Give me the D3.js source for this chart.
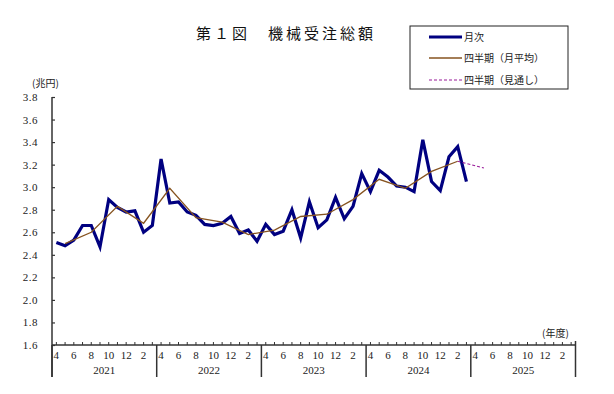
<!DOCTYPE html>
<html>
<head>
<meta charset="utf-8">
<script src="https://cdn.jsdelivr.net/npm/d3@7"></script>
<style>
  body { margin: 0; background: #fff; }
  svg text { font-family: "Liberation Serif", "Noto Sans CJK JP", serif; fill: #222; }
  .jp { font-family: "Noto Sans CJK JP", sans-serif; }
</style>
</head>
<body>
<svg id="chart" width="614" height="394"></svg>
<script>
// fiscal years shown on the x axis (April - March)
var fiscalYears = ['2021', '2022', '2023', '2024', '2025'];
var monthLabels = ['4', '6', '8', '10', '12', '2'];
var yTicks = [1.6, 1.8, 2.0, 2.2, 2.4, 2.6, 2.8, 3.0, 3.2, 3.4, 3.6, 3.8];

// 月次 (trillion yen), Apr 2021 - Mar 2025
var monthly = [
  2.51, 2.48, 2.53, 2.66, 2.66, 2.47, 2.89, 2.82, 2.78, 2.79, 2.60, 2.66,
  3.25, 2.86, 2.87, 2.78, 2.75, 2.67, 2.66, 2.68, 2.74, 2.59, 2.62, 2.52,
  2.67, 2.58, 2.61, 2.80, 2.55, 2.87, 2.64, 2.71, 2.91, 2.72, 2.83, 3.12,
  2.96, 3.15, 3.09, 3.01, 3.00, 2.96, 3.42, 3.05, 2.97, 3.27, 3.36, 3.05
];

// 四半期（月平均）, plotted at the middle month of each quarter
var quarterly = [
  2.50, 2.60, 2.83, 2.68,
  2.99, 2.73, 2.69, 2.58,
  2.62, 2.74, 2.76, 2.89,
  3.07, 2.99, 3.14, 3.23
];

// 四半期（見通し）: last actual quarter -> Apr-Jun 2025 outlook
var outlook = [3.23, 3.17];
var outlookQuarters = [15, 16];

var svg = d3.select('#chart');

var x = d3.scaleLinear().domain([0, 60]).range([52, 575.5]);
var y = d3.scaleLinear().domain([1.6, 3.8]).range([345, 97]);
var axisColor = '#333';

// title
svg.append('text')
  .attr('class', 'jp')
  .attr('x', 196)
  .attr('y', 39)
  .attr('font-size', 15)
  .attr('letter-spacing', 3)
  .style('fill', '#111')
  .text('第１図　機械受注総額');

// unit labels
svg.append('text').attr('class', 'jp')
  .attr('x', 32).attr('y', 87).attr('font-size', 10)
  .text('(兆円)');
svg.append('text').attr('class', 'jp')
  .attr('x', 542).attr('y', 337).attr('font-size', 10)
  .text('(年度)');

// y axis
var yAxis = d3.axisRight(y)
  .tickValues(yTicks)
  .tickSize(3)
  .tickFormat('');
var yg = svg.append('g')
  .attr('transform', 'translate(52,0)')
  .call(yAxis);
yg.select('.domain').remove();
yg.selectAll('line').attr('stroke', axisColor).attr('stroke-width', 1.2);

svg.selectAll('text.ylab')
  .data(yTicks)
  .enter().append('text')
  .attr('class', 'ylab')
  .attr('x', 38)
  .attr('y', function(d) { return y(d) + 4; })
  .attr('text-anchor', 'end')
  .attr('font-size', 11)
  .attr('letter-spacing', 0.5)
  .text(function(d) { return d.toFixed(1); });

svg.append('line')
  .attr('x1', 52).attr('x2', 52)
  .attr('y1', 97).attr('y2', 377)
  .attr('stroke', axisColor).attr('stroke-width', 1.5);

// x axis
svg.append('line')
  .attr('x1', 52).attr('x2', 575.5)
  .attr('y1', 345).attr('y2', 345)
  .attr('stroke', axisColor).attr('stroke-width', 1.5);

svg.selectAll('line.mtick')
  .data(d3.range(60))
  .enter().append('line')
  .attr('class', 'mtick')
  .attr('x1', function(d) { return x(d + 0.5); })
  .attr('x2', function(d) { return x(d + 0.5); })
  .attr('y1', 345).attr('y2', 342)
  .attr('stroke', axisColor).attr('stroke-width', 1);

svg.selectAll('line.ysep')
  .data(d3.range(fiscalYears.length + 1))
  .enter().append('line')
  .attr('class', 'ysep')
  .attr('x1', function(d) { return x(d * 12); })
  .attr('x2', function(d) { return x(d * 12); })
  .attr('y1', function(d) { return d === fiscalYears.length ? 341 : 345; })
  .attr('y2', 377)
  .attr('stroke', axisColor).attr('stroke-width', 1.5);

fiscalYears.forEach(function(fy, k) {
  svg.selectAll('text.m' + k)
    .data(monthLabels)
    .enter().append('text')
    .attr('class', 'm' + k)
    .attr('x', function(d, i) { return x(k * 12 + i * 2 + 0.5); })
    .attr('y', 359)
    .attr('text-anchor', 'middle')
    .attr('font-size', 11)
    .text(function(d) { return d; });

  svg.append('text')
    .attr('x', x(k * 12 + 6))
    .attr('y', 374)
    .attr('text-anchor', 'middle')
    .attr('font-size', 11)
    .text(fy);
});

// series
var line = d3.line()
  .x(function(d) { return x(d.i + 0.5); })
  .y(function(d) { return y(d.v); });

svg.append('path')
  .datum(monthly.map(function(v, i) { return {i: i, v: v}; }))
  .attr('d', line)
  .attr('fill', 'none')
  .attr('stroke', '#000080')
  .attr('stroke-width', 3.2)
  .attr('stroke-linejoin', 'miter');

svg.append('path')
  .datum(quarterly.map(function(v, q) { return {i: q * 3 + 1, v: v}; }))
  .attr('d', line)
  .attr('fill', 'none')
  .attr('stroke', '#86531f')
  .attr('stroke-width', 1.3);

svg.append('path')
  .datum(outlook.map(function(v, k) { return {i: outlookQuarters[k] * 3 + 1, v: v}; }))
  .attr('d', line)
  .attr('fill', 'none')
  .attr('stroke', '#9a1a9a')
  .attr('stroke-width', 1.2)
  .attr('stroke-dasharray', '3,2');

// legend
var legend = svg.append('g').attr('transform', 'translate(410,26)');
legend.append('rect')
  .attr('width', 158).attr('height', 63)
  .attr('fill', '#fff').attr('stroke', '#222').attr('stroke-width', 1);

var legendItems = [
  {label: '月次', color: '#000080', width: 3, dash: null},
  {label: '四半期（月平均）', color: '#86531f', width: 1.5, dash: null},
  {label: '四半期（見通し）', color: '#9a1a9a', width: 1.2, dash: '3,2'}
];
var rowY = [11, 32, 54];

var rows = legend.selectAll('g.item')
  .data(legendItems)
  .enter().append('g')
  .attr('class', 'item')
  .attr('transform', function(d, i) { return 'translate(0,' + rowY[i] + ')'; });

rows.append('line')
  .attr('x1', 19).attr('x2', 52)
  .attr('stroke', function(d) { return d.color; })
  .attr('stroke-width', function(d) { return d.width; })
  .attr('stroke-dasharray', function(d) { return d.dash; });

rows.append('text')
  .attr('class', 'jp')
  .attr('x', 54)
  .attr('y', 3.5)
  .attr('font-size', 10)
  .text(function(d) { return d.label; });
</script>
</body>
</html>
